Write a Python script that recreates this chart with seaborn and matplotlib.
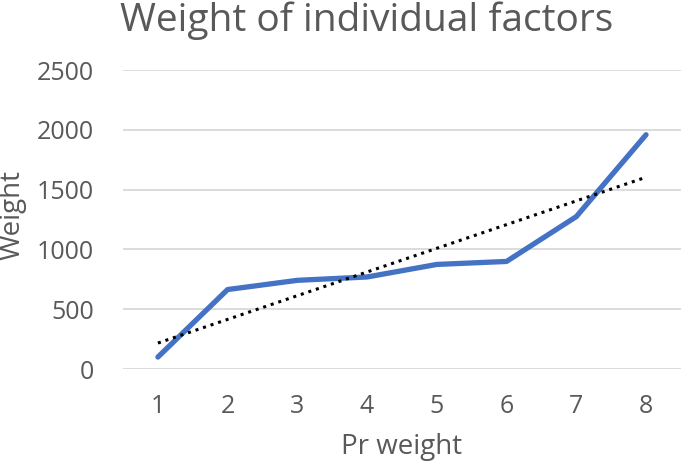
import pandas as pd
import matplotlib.pyplot as plt
import seaborn as sns

# values
pr_weight = [1, 2, 3, 4, 5, 6, 7, 8]
weight = [100, 665, 742, 770, 875, 900, 1275, 1960]
y_ticks = [0, 500, 1000, 1500, 2000, 2500]

df = pd.DataFrame({'Pr weight': pr_weight, 'Weight': weight})

sns.set_theme(style='white')
plt.rcParams['font.family'] = ['Open Sans', 'DejaVu Sans']
text_gray = '#595959'

fig = plt.figure(figsize=(6.85, 4.68), dpi=100)
ax = fig.add_axes([0.1796, 0.2115, 0.8144, 0.6385])

for t in y_ticks:
    ax.axhline(t, color='#d9d9d9', lw=1.3, zorder=0)

sns.regplot(data=df, x='Pr weight', y='Weight', ax=ax, scatter=False, ci=None,
            line_kws={'color': 'black', 'lw': 2.2, 'ls': (0, (1, 1.6)), 'zorder': 3})
sns.lineplot(data=df, x='Pr weight', y='Weight', ax=ax, color='#4472C4', lw=3.8,
             zorder=2, solid_capstyle='round')

ax.set_xlim(0.5, 8.5)
ax.set_ylim(0, 2500)
ax.set_xticks(pr_weight)
ax.set_yticks(y_ticks)
ax.tick_params(axis='both', length=0, labelsize=18, labelcolor=text_gray)
ax.tick_params(axis='y', pad=21)
ax.tick_params(axis='x', pad=18)
for s in ax.spines.values():
    s.set_visible(False)

ax.set_xlabel('Pr weight', fontsize=20, color=text_gray, labelpad=10)
ax.set_ylabel('')
fig.text(0.019, 0.540, 'Weight', rotation=90, ha='center', va='center',
         fontsize=20, color=text_gray)
fig.text(0.535, 0.955, 'Weight of individual factors', ha='center', va='center',
         fontsize=28, color=text_gray)

fig.savefig('out.png', dpi=100)
